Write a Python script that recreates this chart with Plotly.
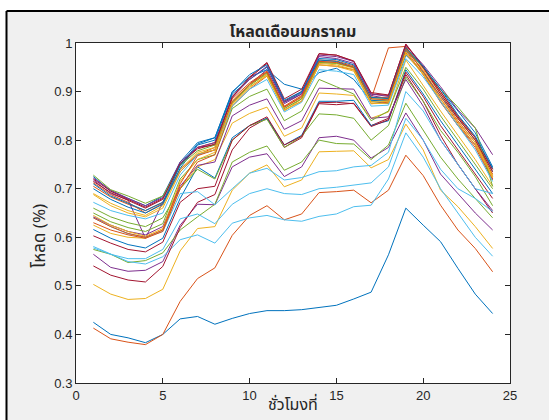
import plotly.graph_objects as go

hours = list(range(1, 25))

day01 = [0.425,0.400,0.393,0.383,0.400,0.432,0.437,0.421,0.433,0.443,0.449,0.449,0.451,0.456,0.460,0.473,0.487,0.564,0.660,0.625,0.591,0.536,0.483,0.443]
day02 = [0.413,0.391,0.384,0.379,0.400,0.468,0.515,0.537,0.604,0.645,0.665,0.636,0.648,0.692,0.694,0.697,0.671,0.697,0.769,0.727,0.666,0.615,0.577,0.529]
day03 = [0.503,0.483,0.472,0.474,0.493,0.572,0.618,0.622,0.697,0.732,0.749,0.704,0.718,0.776,0.777,0.778,0.743,0.760,0.833,0.780,0.697,0.663,0.622,0.577]
day04 = [0.565,0.538,0.530,0.532,0.550,0.625,0.668,0.667,0.745,0.765,0.772,0.725,0.745,0.805,0.808,0.800,0.763,0.785,0.856,0.800,0.730,0.690,0.650,0.615]
day05 = [0.575,0.565,0.548,0.552,0.568,0.615,0.642,0.668,0.755,0.775,0.788,0.738,0.755,0.800,0.793,0.792,0.760,0.790,0.876,0.820,0.765,0.720,0.680,0.640]
day06 = [0.581,0.565,0.550,0.545,0.560,0.595,0.605,0.588,0.629,0.640,0.645,0.636,0.633,0.643,0.648,0.663,0.666,0.720,0.815,0.765,0.700,0.650,0.600,0.561]
day07 = [0.541,0.522,0.512,0.508,0.540,0.620,0.672,0.688,0.780,0.825,0.845,0.785,0.805,0.875,0.873,0.876,0.830,0.845,0.935,0.880,0.810,0.750,0.700,0.650]
day08 = [0.616,0.598,0.585,0.578,0.598,0.680,0.745,0.722,0.805,0.830,0.845,0.790,0.810,0.880,0.880,0.882,0.830,0.840,0.945,0.895,0.840,0.790,0.740,0.690]
day09 = [0.705,0.683,0.668,0.655,0.672,0.740,0.770,0.785,0.878,0.915,0.940,0.868,0.888,0.962,0.960,0.950,0.885,0.990,0.993,0.940,0.885,0.835,0.790,0.725]
day10 = [0.625,0.608,0.600,0.598,0.615,0.700,0.745,0.760,0.835,0.855,0.868,0.808,0.825,0.897,0.895,0.892,0.845,0.858,0.965,0.912,0.860,0.810,0.760,0.705]
day11 = [0.718,0.690,0.677,0.598,0.672,0.735,0.770,0.780,0.875,0.915,0.945,0.875,0.895,0.972,0.968,0.958,0.892,0.885,0.985,0.935,0.880,0.830,0.790,0.720]
day12 = [0.660,0.642,0.630,0.622,0.640,0.700,0.740,0.720,0.800,0.830,0.843,0.785,0.808,0.854,0.852,0.845,0.800,0.830,0.930,0.880,0.820,0.775,0.725,0.665]
day13 = [0.578,0.565,0.556,0.556,0.575,0.638,0.648,0.628,0.668,0.690,0.700,0.690,0.688,0.700,0.703,0.708,0.712,0.745,0.845,0.800,0.740,0.700,0.680,0.653]
day14 = [0.603,0.588,0.575,0.570,0.590,0.672,0.700,0.705,0.800,0.830,0.848,0.790,0.808,0.877,0.878,0.875,0.828,0.842,0.940,0.890,0.830,0.780,0.730,0.680]
day15 = [0.725,0.695,0.680,0.665,0.685,0.755,0.795,0.805,0.900,0.930,0.945,0.915,0.905,0.939,0.948,0.925,0.880,0.875,0.975,0.940,0.890,0.845,0.800,0.735]
day16 = [0.712,0.688,0.672,0.650,0.670,0.750,0.785,0.795,0.885,0.918,0.942,0.870,0.892,0.965,0.963,0.953,0.888,0.888,0.992,0.948,0.900,0.850,0.805,0.740]
day17 = [0.690,0.670,0.655,0.645,0.665,0.740,0.775,0.785,0.880,0.915,0.935,0.865,0.885,0.960,0.958,0.948,0.880,0.882,0.985,0.945,0.895,0.845,0.800,0.728]
day18 = [0.642,0.625,0.612,0.605,0.622,0.705,0.748,0.755,0.850,0.872,0.885,0.822,0.840,0.907,0.906,0.905,0.845,0.848,0.925,0.870,0.800,0.750,0.700,0.655]
day19 = [0.650,0.632,0.620,0.612,0.628,0.720,0.760,0.770,0.865,0.890,0.905,0.840,0.860,0.925,0.910,0.895,0.840,0.860,0.950,0.905,0.850,0.800,0.750,0.700]
day20 = [0.640,0.622,0.607,0.600,0.612,0.690,0.694,0.667,0.700,0.732,0.742,0.718,0.723,0.735,0.737,0.745,0.748,0.775,0.900,0.860,0.800,0.750,0.700,0.690]
day21 = [0.720,0.695,0.678,0.662,0.680,0.750,0.785,0.790,0.890,0.928,0.958,0.880,0.900,0.978,0.975,0.962,0.895,0.892,0.998,0.952,0.900,0.848,0.805,0.740]
day22 = [0.700,0.678,0.662,0.650,0.668,0.742,0.790,0.800,0.895,0.925,0.950,0.878,0.898,0.965,0.962,0.950,0.882,0.880,0.985,0.950,0.905,0.860,0.815,0.745]
day23 = [0.630,0.615,0.605,0.598,0.612,0.700,0.755,0.770,0.870,0.905,0.932,0.862,0.880,0.955,0.952,0.945,0.875,0.878,0.980,0.935,0.878,0.830,0.785,0.718]
day24 = [0.645,0.625,0.612,0.602,0.618,0.715,0.760,0.775,0.872,0.908,0.935,0.860,0.885,0.958,0.955,0.945,0.878,0.880,0.982,0.938,0.880,0.832,0.790,0.722]
day25 = [0.722,0.697,0.680,0.665,0.682,0.755,0.785,0.795,0.888,0.925,0.952,0.878,0.895,0.975,0.972,0.962,0.895,0.890,0.995,0.955,0.910,0.862,0.825,0.770]
day26 = [0.728,0.698,0.685,0.670,0.685,0.748,0.778,0.790,0.878,0.912,0.938,0.865,0.885,0.960,0.958,0.950,0.885,0.885,0.988,0.950,0.905,0.868,0.825,0.705]
day27 = [0.672,0.655,0.645,0.638,0.650,0.728,0.770,0.780,0.870,0.905,0.925,0.858,0.878,0.945,0.942,0.935,0.870,0.872,0.968,0.930,0.880,0.830,0.780,0.715]
day28 = [0.715,0.692,0.676,0.660,0.678,0.752,0.782,0.792,0.888,0.930,0.960,0.885,0.905,0.978,0.975,0.963,0.898,0.893,0.997,0.950,0.895,0.845,0.800,0.735]
day29 = [0.710,0.685,0.670,0.655,0.672,0.748,0.792,0.805,0.898,0.935,0.955,0.882,0.900,0.968,0.966,0.955,0.888,0.886,0.990,0.952,0.905,0.852,0.808,0.742]
day30 = [0.640,0.622,0.608,0.600,0.615,0.710,0.768,0.780,0.880,0.915,0.940,0.868,0.890,0.962,0.960,0.950,0.885,0.883,0.988,0.942,0.890,0.840,0.795,0.730]
day31 = [0.688,0.665,0.650,0.642,0.660,0.735,0.772,0.780,0.875,0.910,0.932,0.862,0.880,0.955,0.952,0.942,0.875,0.876,0.978,0.935,0.885,0.838,0.795,0.725]

days = [day01, day02, day03, day04, day05, day06, day07, day08, day09, day10,
        day11, day12, day13, day14, day15, day16, day17, day18, day19, day20,
        day21, day22, day23, day24, day25, day26, day27, day28, day29, day30, day31]

colors = ["#0072BD", "#D95319", "#EDB120", "#7E2F8E", "#77AC30", "#4DBEEE", "#A2142F"]

x_ticks = [0, 5, 10, 15, 20, 25]
y_ticks = [0.3, 0.4, 0.5, 0.6, 0.7, 0.8, 0.9, 1.0]
y_ticklabels = ["0.3", "0.4", "0.5", "0.6", "0.7", "0.8", "0.9", "1"]

title_text = "โหลดเดือนมกราคม"
xlabel_text = "ชั่วโมงที่"
ylabel_text = "โหลด (%)"

fig = go.Figure()
for i, d in enumerate(days):
    fig.add_trace(go.Scatter(x=hours, y=d, mode="lines",
                             line=dict(color=colors[i % 7], width=1),
                             showlegend=False, hoverinfo="skip"))

W, H = 549, 420
L, R, T, B = 76, 39, 43, 37
pw, ph = W - L - R, H - T - B

def px(xp):
    return (xp - L) / pw

def py(yp):
    return (H - B - yp) / ph

thai = "Tahoma, Noto Sans Thai, Loma, Garuda, Noto Sans, sans-serif"
axis_font = dict(family="Liberation Sans, Arial, sans-serif", size=13, color="#262626")
text_col = "#262626"

fig.update_layout(
    width=W, height=H,
    margin=dict(l=L, r=R, t=T, b=B, pad=0, autoexpand=False),
    paper_bgcolor="#f0f0f0",
    plot_bgcolor="white",
    title=dict(text="<b>" + title_text + "</b>", x=0.5 * (L + W - R) / W, xanchor="center",
               y=1 - 31 / H, yanchor="middle",
               font=dict(family=thai, size=16, color=text_col)),
    xaxis=dict(range=[0, 25], tickvals=x_ticks, ticks="inside", ticklen=5,
               tickcolor=text_col, showline=True, linecolor=text_col, linewidth=1,
               mirror="ticks", showgrid=False, zeroline=False, tickfont=axis_font,
               automargin=False, title=None),
    yaxis=dict(range=[0.3, 1.0], tickvals=y_ticks, ticktext=y_ticklabels, ticks="inside",
               ticklen=5, tickcolor=text_col, showline=True, linecolor=text_col,
               linewidth=1, mirror="ticks", showgrid=False, zeroline=False,
               tickfont=axis_font, automargin=False, title=None),
    annotations=[
        dict(text=xlabel_text, xref="paper", yref="paper", x=0.5, y=py(405),
             xanchor="center", yanchor="middle", showarrow=False,
             font=dict(family=thai, size=16, color=text_col)),
        dict(text=ylabel_text, xref="paper", yref="paper", x=px(40), y=py(236),
             xanchor="center", yanchor="middle", showarrow=False, textangle=-90,
             font=dict(family=thai, size=17, color=text_col)),
    ],
    shapes=[
        dict(type="rect", xref="paper", yref="paper", x0=px(-5), x1=px(W + 5),
             y0=py(11), y1=py(-5), fillcolor="white", line=dict(width=0), layer="above"),
        dict(type="rect", xref="paper", yref="paper", x0=px(-5), x1=px(6.5),
             y0=py(H + 5), y1=py(-5), fillcolor="white", line=dict(width=0), layer="above"),
        dict(type="line", xref="paper", yref="paper", x0=px(6.5), x1=px(W + 5),
             y0=py(11), y1=py(11), line=dict(color="black", width=2), layer="above"),
        dict(type="line", xref="paper", yref="paper", x0=px(6.5), x1=px(6.5),
             y0=py(11), y1=py(H + 5), line=dict(color="black", width=2), layer="above"),
    ],
)

fig.write_html("out.html", config={"displayModeBar": False},
               post_script="document.body.style.margin='0';document.body.style.overflow='hidden';")
